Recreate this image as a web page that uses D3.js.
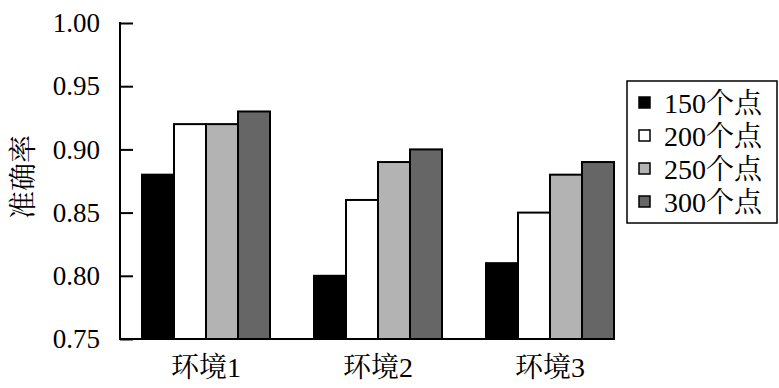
<!DOCTYPE html>
<html><head><meta charset="utf-8">
<script src="https://cdn.jsdelivr.net/npm/d3@7"></script>
<style>body{margin:0;background:#fff}</style>
</head><body>
<svg id="c" width="779" height="388"></svg>
<script>
const groups = ["环境1", "环境2", "环境3"];
const seriesNames = ["150个点", "200个点", "250个点", "300个点"];
const seriesColors = ["#000000", "#ffffff", "#b3b3b3", "#666666"];
const values = [
  [0.88, 0.80, 0.81],
  [0.92, 0.86, 0.85],
  [0.92, 0.89, 0.88],
  [0.93, 0.90, 0.89]
];
const yTicks = [0.75, 0.80, 0.85, 0.90, 0.95, 1.00];
const yTitle = "准确率";

(function () {
const FONT = "'Liberation Serif','Times New Roman','Noto Serif CJK SC','Noto Sans CJK SC',serif";
const svg = d3.select("#c");
const pL = 120, pR = 636, pT = 23, pB = 339;

const x0 = d3.scaleBand().domain(groups).range([pL, pR]).paddingInner(44/172).paddingOuter(22/172);
const x1 = d3.scaleBand().domain(seriesNames).range([0, x0.bandwidth()]);
const y = d3.scaleLinear().domain([0.75, 1.0]).range([pB, pT]);

// bars
seriesNames.forEach((s, si) => {
  svg.append("g").selectAll("rect").data(groups).join("rect")
    .attr("x", g => x0(g) + x1(s))
    .attr("y", (g, gi) => y(values[si][gi]))
    .attr("width", x1.bandwidth())
    .attr("height", (g, gi) => y(0.75) - y(values[si][gi]))
    .attr("fill", seriesColors[si])
    .attr("stroke", "#000").attr("stroke-width", 2);
});

// y axis
const ya = svg.append("g").attr("transform", `translate(${pL},0)`)
  .call(d3.axisRight(y).tickValues(yTicks).tickSize(13).tickFormat(d3.format(".2f")));
ya.select(".domain").remove();
ya.selectAll(".tick line").attr("stroke", "#000").attr("stroke-width", 2);
ya.selectAll(".tick text").attr("x", -20).attr("text-anchor", "end")
  .style("font-family", FONT).style("font-size", "27px").attr("fill", "#000");
svg.append("line").attr("x1", pL).attr("x2", pL).attr("y1", pT - 1).attr("y2", pB + 1)
  .attr("stroke", "#000").attr("stroke-width", 2);
// x axis line
const xEnd = x0(groups[groups.length - 1]) + x0.bandwidth();
svg.append("line").attr("x1", pL - 1).attr("x2", xEnd).attr("y1", pB).attr("y2", pB)
  .attr("stroke", "#000").attr("stroke-width", 2);
// x labels
svg.append("g").selectAll("text").data(groups).join("text")
  .attr("x", g => x0(g) + x0.bandwidth() / 2).attr("y", 377)
  .attr("text-anchor", "middle").style("font-family", FONT).style("font-size", "28px")
  .text(d => d);
// y title
svg.append("text").attr("transform", "translate(33,177) rotate(-90)")
  .attr("text-anchor", "middle").style("font-family", FONT).style("font-size", "28px")
  .text(yTitle);

// legend
const lg = svg.append("g");
lg.append("rect").attr("x", 627).attr("y", 81).attr("width", 150).attr("height", 142)
  .attr("fill", "#fff").attr("stroke", "#000").attr("stroke-width", 1.5);
seriesNames.forEach((s, i) => {
  const cy = 103 + i * 33;
  lg.append("rect").attr("x", 639).attr("y", cy - 6).attr("width", 11).attr("height", 11)
    .attr("fill", seriesColors[i]).attr("stroke", "#000").attr("stroke-width", 1.5);
  lg.append("text").attr("x", 664).attr("y", cy + 10).style("font-family", FONT)
    .style("font-size", "28px").text(s);
});
})();
</script>
</body></html>
